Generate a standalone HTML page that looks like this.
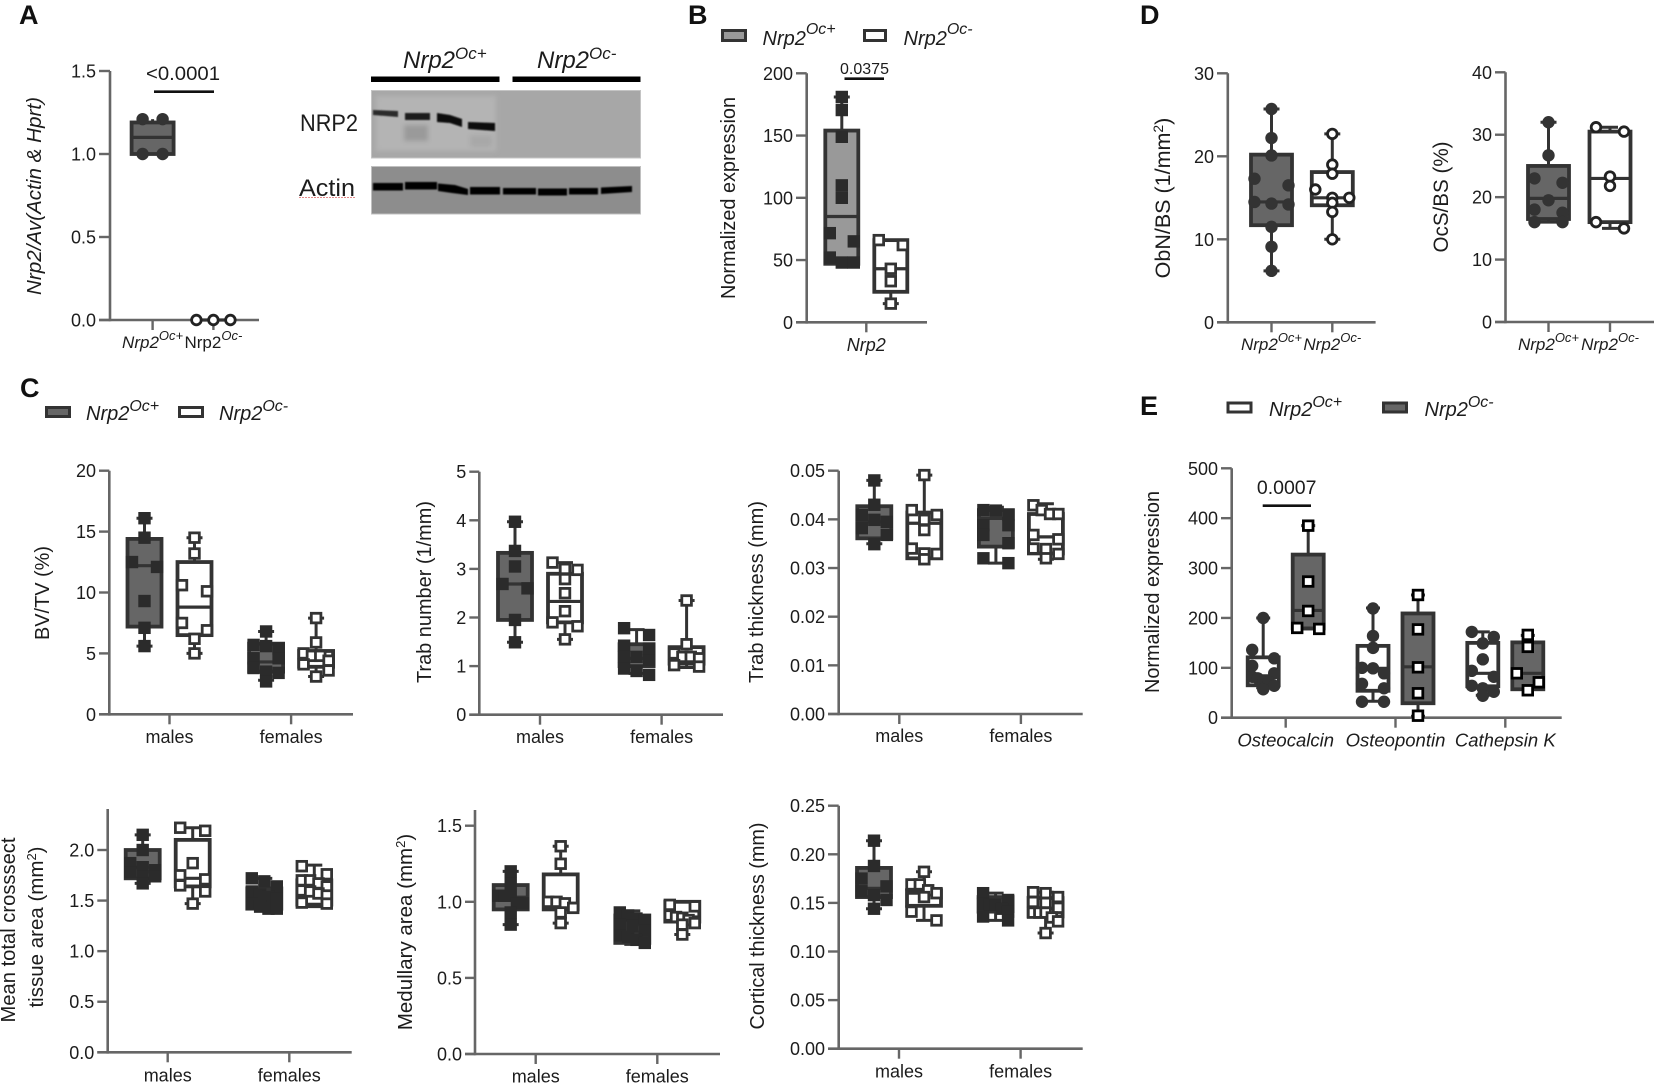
<!DOCTYPE html>
<html lang="en">
<head>
<meta charset="utf-8">
<title>Nrp2 osteoclast knockout figure</title>
<style>
html,body{margin:0;padding:0;background:#fff;}
svg{display:block;font-family:"Liberation Sans",sans-serif;filter:blur(0.35px);}
text{fill:#1c1c1c;}
.letter{font-weight:bold;font-size:27px;fill:#111;}
.ytitle{font-size:20.5px;text-anchor:middle;}
.leg{font-style:italic;font-size:20px;}
.legsup{font-size:16px;}
</style>
</head>
<body>
<svg id="figure" xmlns="http://www.w3.org/2000/svg" width="1654" height="1084" viewBox="0 0 1654 1084">
<defs>
<filter id="blur1" x="-10%" y="-50%" width="120%" height="200%"><feGaussianBlur stdDeviation="0.9"/></filter>
<filter id="blur2" x="-20%" y="-50%" width="140%" height="200%"><feGaussianBlur stdDeviation="2.5"/></filter>
</defs>
<rect width="1654" height="1084" fill="#fff"/>

<text class="letter" x="19" y="24">A</text>
<text class="letter" x="688" y="24">B</text>
<text class="letter" x="20" y="397">C</text>
<text class="letter" x="1140" y="24">D</text>
<text class="letter" x="1140" y="415">E</text>

<!-- Western blot -->
<g>
<text x="403" y="68" font-size="24" font-style="italic">Nrp2<tspan dy="-9" font-size="17">Oc+</tspan></text>
<text x="537" y="68" font-size="24" font-style="italic">Nrp2<tspan dy="-9" font-size="17">Oc-</tspan></text>
<rect x="371" y="76.5" width="128.5" height="5.5" fill="#000"/>
<rect x="512.5" y="76.5" width="128" height="5.5" fill="#000"/>
<rect x="371.5" y="90.5" width="269" height="67.5" fill="#a7a7a7" stroke="#c4c4c4" stroke-width="1"/>
<rect x="371.5" y="166.5" width="269" height="47.5" fill="#8d8d8d" stroke="#c0c0c0" stroke-width="1"/>
<g filter="url(#blur2)">
<rect x="376" y="96" width="120" height="55" fill="#b4b4b4"/>
<rect x="404" y="125" width="24" height="16" fill="#8f8f8f" opacity="0.7"/>
<rect x="470" y="135" width="22" height="12" fill="#9c9c9c" opacity="0.5"/>
</g>
<g filter="url(#blur1)" fill="#0a0a0a">
<path d="M373 110 L398 111 L398 117 L373 115Z" fill="#2a2a2a"/>
<path d="M405 113 L430 113 L430 120 L405 120Z" fill="#1a1a1a"/>
<path d="M437 113 L450 115 L462 119 L462 127 L450 123 L437 122Z"/>
<path d="M468 122 L495 123 L495 131 L468 129Z"/>
</g>
<g filter="url(#blur1)" fill="#050505">
<rect x="373" y="183" width="30" height="7.5"/><rect x="405" y="182" width="32" height="7.5"/>
<path d="M438 183.5 L455 185 L468 189 L468 195 L452 193 L438 191Z"/><rect x="470" y="187" width="30" height="7.5"/>
<rect x="503" y="188" width="33" height="6.5"/><rect x="538" y="188.5" width="29" height="7"/>
<rect x="569" y="188" width="29" height="6.5"/><path d="M601 187.5 L632 186 L632 192 L601 194Z"/>
</g>
<text x="300" y="131" font-size="24" textLength="58" lengthAdjust="spacingAndGlyphs">NRP2</text>
<text x="299" y="196" font-size="24" textLength="56" lengthAdjust="spacingAndGlyphs">Actin</text>
<line x1="299" y1="197.5" x2="356" y2="197.5" stroke="#e58a8a" stroke-width="1" stroke-dasharray="2 1"/>
</g>

<!-- Axis titles -->
<text class="ytitle" font-style="italic" transform="translate(41,196) rotate(-90)" textLength="198" lengthAdjust="spacingAndGlyphs">Nrp2/Av(Actin &amp; Hprt)</text>
<text class="ytitle" transform="translate(735,198) rotate(-90)" textLength="202" lengthAdjust="spacingAndGlyphs">Normalized expression</text>
<text class="ytitle" transform="translate(1170,198) rotate(-90)" font-size="21.5" style="font-size:21.5px">ObN/BS (1/mm<tspan dy="-7" font-size="14">2</tspan><tspan dy="7">)</tspan></text>
<text class="ytitle" transform="translate(1448,197) rotate(-90)" textLength="111" lengthAdjust="spacingAndGlyphs" style="font-size:21.5px">OcS/BS (%)</text>
<text class="ytitle" transform="translate(49,593) rotate(-90)" textLength="94" lengthAdjust="spacingAndGlyphs">BV/TV (%)</text>
<text class="ytitle" transform="translate(431,592) rotate(-90)" textLength="182" lengthAdjust="spacingAndGlyphs">Trab number (1/mm)</text>
<text class="ytitle" transform="translate(763,592) rotate(-90)" textLength="182" lengthAdjust="spacingAndGlyphs">Trab thickness (mm)</text>
<text class="ytitle" transform="translate(15,930) rotate(-90)" textLength="185" lengthAdjust="spacingAndGlyphs">Mean total crosssect</text>
<text class="ytitle" transform="translate(43,927) rotate(-90)">tissue area (mm<tspan dy="-7" font-size="13">2</tspan><tspan dy="7">)</tspan></text>
<text class="ytitle" transform="translate(412,932) rotate(-90)">Medullary area (mm<tspan dy="-7" font-size="13">2</tspan><tspan dy="7">)</tspan></text>
<text class="ytitle" transform="translate(764,926) rotate(-90)" textLength="207" lengthAdjust="spacingAndGlyphs">Cortical thickness (mm)</text>
<text class="ytitle" transform="translate(1159,592) rotate(-90)" textLength="202" lengthAdjust="spacingAndGlyphs">Normalized expression</text>

<!-- Significance -->
<text x="146" y="80" font-size="19.5" textLength="74" lengthAdjust="spacingAndGlyphs">&lt;0.0001</text>
<line x1="154" y1="91.7" x2="214" y2="91.7" stroke="#111" stroke-width="2.6"/>
<text x="864.5" y="74" font-size="16" text-anchor="middle">0.0375</text>
<line x1="844.5" y1="78.7" x2="884" y2="78.7" stroke="#111" stroke-width="2.6"/>
<text x="1286.7" y="494" font-size="19.5" text-anchor="middle">0.0007</text>
<line x1="1262.7" y1="505.7" x2="1311" y2="505.7" stroke="#111" stroke-width="2.6"/>

<!-- Legends -->
<g>
<rect x="722.5" y="30.5" width="23" height="10" fill="#999" stroke="#333" stroke-width="3"/>
<text class="leg" x="762.5" y="45">Nrp2<tspan class="legsup" dy="-11">Oc+</tspan></text>
<rect x="864.5" y="30.5" width="21" height="10" fill="#fff" stroke="#333" stroke-width="3"/>
<text class="leg" x="903.5" y="45">Nrp2<tspan class="legsup" dy="-11">Oc-</tspan></text>
</g>
<g>
<rect x="46.5" y="407.5" width="23" height="9" fill="#666" stroke="#333" stroke-width="3"/>
<text class="leg" x="86" y="420">Nrp2<tspan class="legsup" font-size="15" dy="-9">Oc+</tspan></text>
<rect x="179.5" y="407.5" width="23" height="9" fill="#fff" stroke="#333" stroke-width="3"/>
<text class="leg" x="219" y="420">Nrp2<tspan class="legsup" font-size="15" dy="-9">Oc-</tspan></text>
</g>
<g>
<rect x="1228" y="403" width="23" height="9" fill="#fff" stroke="#333" stroke-width="3"/>
<text class="leg" x="1269" y="416">Nrp2<tspan class="legsup" dy="-9">Oc+</tspan></text>
<rect x="1383.5" y="403" width="23" height="9" fill="#666" stroke="#333" stroke-width="3"/>
<text class="leg" x="1424.5" y="416">Nrp2<tspan class="legsup" dy="-9">Oc-</tspan></text>
</g>
</svg>

<script>
// ---- Chart data: values ----
// Boxes are [min, q1, median, q3, max].
const aCategories = ['Nrp2^Oc+', 'Nrp2^Oc-'];
const aTickLabels = ['0.0', '0.5', '1.0', '1.5'];
const aPoints = [[1.21, 1.21, 1.0, 1.0], [0, 0, 0]];
const aBoxes = [[1.0, 1.0, 1.10, 1.19, 1.21], [0, 0, 0, 0, 0]];

const bCategories = ['Nrp2'];
const bTickLabels = ['0', '50', '100', '150', '200'];
const bPoints = [[181, 170.5, 149, 110, 100, 71.6, 65, 52, 48, 48], [66, 62, 43, 33, 15]];
const bBoxes = [[47, 47, 85, 154, 181], [15, 24.5, 43, 66, 66]];

const obnCategories = ['Nrp2^Oc+', 'Nrp2^Oc-'];
const obnTickLabels = ['0', '10', '20', '30'];
const obnPoints = [[25.7, 22.2, 20.1, 17.3, 16.5, 14.5, 14.3, 14.2, 11.5, 9.1, 6.2], [22.7, 19, 17.9, 16, 15, 15, 14.4, 13.3, 10]];
const obnBoxes = [[6.2, 11.7, 14.5, 20.2, 25.7], [10, 14.1, 15, 18.1, 22.7]];

const ocsCategories = ['Nrp2^Oc+', 'Nrp2^Oc-'];
const ocsTickLabels = ['0', '10', '20', '30', '40'];
const ocsPoints = [[32, 26.7, 23, 22.3, 19.5, 18, 17.5, 16, 16], [31.2, 30.5, 23.3, 21.8, 16, 15]];
const ocsBoxes = [[16, 16.5, 19.8, 25, 32], [15, 16, 23, 30.5, 31.2]];

const sexCategories = ['males', 'females'];

const bvtvTickLabels = ['0', '5', '10', '15', '20'];
const bvtvPoints = [
  [16.1, 14.5, 12.5, 12.1, 9.3, 7.1, 5.6],
  [14.5, 13.2, 10.6, 10.1, 7.5, 6.9, 6.2, 5.0],
  [6.8, 5.7, 5.6, 5.4, 4.6, 4.6, 3.8, 3.5, 3.4, 2.7],
  [7.9, 5.9, 5.0, 4.8, 4.8, 4.4, 4.1, 3.6, 3.1]];
const bvtvBoxes = [[5.6, 7.2, 12.2, 14.4, 16.1], [5, 6.5, 8.8, 12.5, 14.5], [2.8, 3.5, 4.3, 5.8, 6.8], [3.1, 3.9, 4.6, 5.2, 7.9]];

const trabnTickLabels = ['0', '1', '2', '3', '4', '5'];
const trabnPoints = [
  [3.97, 3.37, 3.05, 2.69, 2.6, 1.95, 1.49],
  [3.13, 3.0, 2.98, 2.79, 2.5, 2.13, 1.9, 1.82, 1.55],
  [1.78, 1.64, 1.42, 1.36, 1.19, 1.19, 1.12, 0.95, 0.9, 0.82],
  [2.35, 1.45, 1.26, 1.19, 1.19, 1.16, 1.02, 0.99]];
const trabnBoxes = [[1.49, 1.95, 2.69, 3.33, 3.97], [1.55, 1.9, 2.33, 2.9, 3.13], [0.85, 1.0, 1.16, 1.45, 1.75], [0.97, 1.05, 1.19, 1.39, 2.35]];

const trabtTickLabels = ['0.00', '0.01', '0.02', '0.03', '0.04', '0.05'];
const trabtPoints = [
  [0.048, 0.043, 0.0409, 0.0399, 0.0395, 0.0382, 0.0368, 0.0349],
  [0.0491, 0.0419, 0.0409, 0.0399, 0.0378, 0.034, 0.033, 0.0329, 0.0318],
  [0.0419, 0.0418, 0.0409, 0.0388, 0.0388, 0.0368, 0.0351, 0.032, 0.031],
  [0.0429, 0.0419, 0.0411, 0.0411, 0.0368, 0.0359, 0.034, 0.0339, 0.0329, 0.032]];
const trabtBoxes = [[0.035, 0.0361, 0.0395, 0.0427, 0.048], [0.032, 0.032, 0.0392, 0.0414, 0.0491], [0.031, 0.0344, 0.0402, 0.0419, 0.0425], [0.0318, 0.033, 0.0364, 0.0411, 0.0432]];

const areaTickLabels = ['0.0', '0.5', '1.0', '1.5', '2.0'];
const areaPoints = [
  [2.15, 2.0, 1.87, 1.83, 1.8, 1.78, 1.74, 1.74, 1.67],
  [2.22, 2.19, 1.87, 1.75, 1.71, 1.65, 1.59, 1.47],
  [1.72, 1.69, 1.64, 1.59, 1.56, 1.54, 1.52, 1.47, 1.44, 1.42, 1.42],
  [1.84, 1.76, 1.7, 1.7, 1.67, 1.64, 1.6, 1.59, 1.57, 1.55, 1.48, 1.47]];
const areaBoxes = [[1.67, 1.72, 1.83, 2.0, 2.15], [1.47, 1.64, 1.72, 2.1, 2.22], [1.4, 1.42, 1.47, 1.62, 1.72], [1.44, 1.46, 1.57, 1.7, 1.85]];

const medTickLabels = ['0.0', '0.5', '1.0', '1.5'];
const medPoints = [
  [1.2, 1.12, 1.04, 1.04, 1.04, 0.99, 0.99, 0.93, 0.85],
  [1.365, 1.25, 1.0, 1.0, 0.99, 0.96, 0.93, 0.86],
  [0.93, 0.91, 0.89, 0.88, 0.85, 0.84, 0.81, 0.78, 0.77, 0.75, 0.73],
  [0.98, 0.97, 0.91, 0.9, 0.895, 0.88, 0.86, 0.85, 0.785]];
const medBoxes = [[0.85, 0.95, 1.03, 1.11, 1.2], [0.86, 0.95, 0.99, 1.18, 1.365], [0.72, 0.73, 0.80, 0.91, 0.94], [0.785, 0.87, 0.9, 1.0, 1.0]];

const cortTickLabels = ['0.00', '0.05', '0.10', '0.15', '0.20', '0.25'];
const cortPoints = [
  [0.214, 0.188, 0.175, 0.167, 0.162, 0.158, 0.153, 0.144],
  [0.182, 0.169, 0.169, 0.163, 0.16, 0.156, 0.141, 0.132],
  [0.16, 0.153, 0.149, 0.148, 0.148, 0.144, 0.141, 0.136, 0.132],
  [0.161, 0.16, 0.156, 0.151, 0.15, 0.145, 0.14, 0.14, 0.14, 0.135, 0.131, 0.119]];
const cortBoxes = [[0.144, 0.156, 0.165, 0.186, 0.214], [0.132, 0.147, 0.16, 0.163, 0.182], [0.132, 0.141, 0.147, 0.156, 0.16], [0.119, 0.136, 0.144, 0.155, 0.161]];

const geneCategories = ['Osteocalcin', 'Osteopontin', 'Cathepsin K'];
const geneTickLabels = ['0', '100', '200', '300', '400', '500'];
const genePoints = [
  [200, 136, 119, 104, 89, 82, 79, 72, 72, 64, 57],
  [385, 273, 214, 180, 178],
  [219, 164, 140, 100, 99, 89, 68, 59, 32, 32],
  [246, 177, 101, 49, 4],
  [172, 162, 149, 117, 94, 82, 64, 59, 52, 44],
  [166, 142, 89, 71, 55]];
const geneBoxes = [[60, 65, 84, 121, 200], [178, 179, 215, 327, 385], [33, 54, 99, 144, 220], [3, 29, 102, 209, 246], [45, 63, 89, 150, 172], [57, 57, 89, 151, 165]];

// ---- Rendering ----
const NS = 'http://www.w3.org/2000/svg';
const figure = document.getElementById('figure');

function mk(tag, attrs, parent) {
  const el = document.createElementNS(NS, tag);
  for (const k in attrs) el.setAttribute(k, attrs[k]);
  parent.appendChild(el);
  return el;
}

// Prism-style swarm: values close together share a row and spread sideways.
function swarmOffsets(values, yOf, binPx, step) {
  const order = values.map((v, i) => i).sort((a, b) => values[b] - values[a]);
  const offsets = new Array(values.length).fill(0);
  let bin = [];
  const flush = () => {
    bin.forEach((idx, k) => {
      offsets[idx] = bin.length === 1 ? 0 : -step + 2 * step * k / (bin.length - 1);
    });
    bin = [];
  };
  order.forEach(idx => {
    if (bin.length && Math.abs(yOf(values[idx]) - yOf(values[bin[0]])) >= binPx) flush();
    bin.push(idx);
  });
  flush();
  return offsets;
}

function renderChart(cfg, categories, tickLabels, points, boxes) {
  const g = mk('g', {}, figure);
  
  

  const yOf = v => cfg.y0 + (v - cfg.vmin) * (cfg.yTop - cfg.y0) / (cfg.vmax - cfg.vmin);
  const xOf = i => cfg.xFirst + i * cfg.xStep;
  const axisColor = '#666';

  const yAxis = mk('line', {x1: cfg.axisX, x2: cfg.axisX, y1: cfg.axisTop !== undefined ? cfg.axisTop : cfg.yTop, y2: cfg.y0 + 1.3, stroke: axisColor, 'stroke-width': 2.6}, g);
  
  
  const xAxis = mk('line', {x1: cfg.tickLeft, x2: cfg.xRight, y1: cfg.y0, y2: cfg.y0, stroke: axisColor, 'stroke-width': 2.6}, g);
  
  

  tickLabels.forEach(label => {
    const y = yOf(parseFloat(label));
    const tick = mk('line', {x1: cfg.tickLeft, x2: cfg.axisX, y1: y, y2: y, stroke: axisColor, 'stroke-width': 2.4}, g);
    
    
    const t = mk('text', {x: cfg.tickLeft - 3, y: y + 6.5, 'font-size': cfg.tickSize || 18, 'text-anchor': 'end'}, g);
    
    
    t.textContent = label;
  });

  categories.forEach((label, i) => {
    const x = xOf(i);
    const tick = mk('line', {x1: x, x2: x, y1: cfg.y0, y2: cfg.y0 + 10, stroke: axisColor, 'stroke-width': 2.4}, g);
    
    
    const t = mk('text', {x: x, y: cfg.labelY, 'font-size': cfg.labelSize || 18, 'text-anchor': 'middle'}, g);
    
    
    const parts = label.split('^');
    const base = mk('tspan', {'font-style': (cfg.italic && cfg.uprightBase !== i) ? 'italic' : 'normal'}, t);
    base.textContent = parts[0];
    if (parts[1]) {
      const sup = mk('tspan', {'font-style': 'italic', 'font-size': cfg.supSize || 13, dy: -8}, t);
      sup.textContent = parts[1];
    }
  });

  const nSeries = points.length / categories.length;
  points.forEach((vals, i) => {
    const cat = Math.floor(i / nSeries);
    const ser = i % nSeries;
    const style = cfg.styles[i % cfg.styles.length];
    const center = xOf(cat) + (nSeries === 1 ? 0 : (ser - (nSeries - 1) / 2) * 2 * cfg.dodge);
    const box = boxes[i];
    const sg = mk('g', {}, g);
    
    
    const ink = cfg.ink || '#333';

    const whisker = mk('path', {d: 'M' + center + ' ' + yOf(box[4]) + 'V' + yOf(box[3]) + 'M' + center + ' ' + yOf(box[1]) + 'V' + yOf(box[0]) +
      'M' + (center - cfg.capHalf) + ' ' + yOf(box[4]) + 'H' + (center + cfg.capHalf) +
      'M' + (center - cfg.capHalf) + ' ' + yOf(box[0]) + 'H' + (center + cfg.capHalf),
      fill: 'none', stroke: ink, 'stroke-width': 3}, sg);
    
    

    const rect = mk('rect', {x: center - cfg.boxHalf, width: 2 * cfg.boxHalf, y: yOf(box[3]), height: Math.max(0, yOf(box[1]) - yOf(box[3])),
      fill: style.fill, stroke: ink, 'stroke-width': cfg.boxStroke || 3.8}, sg);
    
    

    const med = mk('line', {x1: center - cfg.boxHalf, x2: center + cfg.boxHalf, y1: yOf(box[2]), y2: yOf(box[2]), stroke: ink, 'stroke-width': 3.2}, sg);
    
    

    const step = Array.isArray(cfg.step) ? cfg.step[i] : cfg.step;
    const offs = swarmOffsets(vals, yOf, cfg.binPx, step);
    vals.forEach((v, k) => {
      const px = center + offs[k];
      const py = yOf(v);
      let m;
      if (style.marker === 'square') {
        const s = style.hollow ? 9.6 : 12.4;
        m = mk('rect', {x: px - s / 2, y: py - s / 2, width: s, height: s,
          fill: style.hollow ? '#fff' : '#2b2b2b',
          stroke: style.hollow ? (style.markerInk || '#333') : 'none', 'stroke-width': style.hollow ? 2.8 : 0}, sg);
      } else {
        m = mk('circle', {cx: px, cy: py, r: style.hollow ? 4.8 : 6.2,
          fill: style.hollow ? '#fff' : '#333',
          stroke: style.hollow ? '#222' : 'none', 'stroke-width': style.hollow ? 2.8 : 0}, sg);
      }
      
      
    });
  });
}

const darkSquare = {fill: '#666', marker: 'square', hollow: false};
const whiteSquare = {fill: '#fff', marker: 'square', hollow: true};
const darkCircle = {fill: '#666', marker: 'circle', hollow: false};
const whiteCircle = {fill: '#fff', marker: 'circle', hollow: true};

renderChart({name: 'chart-nrp2-av', y0: 320, yTop: 71, vmin: 0, vmax: 1.5, axisX: 110, tickLeft: 99, xRight: 259, xFirst: 152.6, xStep: 60.8, dodge: 0,
  labelY: 348, labelSize: 17, italic: true, uprightBase: 1, tickSize: 18, capHalf: 0, boxHalf: 21, binPx: 9, step: [10, 17],
  styles: [darkCircle, whiteCircle]},
  aCategories, aTickLabels, aPoints, aBoxes);

renderChart({name: 'chart-b-nrp2-expression', y0: 322.3, yTop: 73.3, vmin: 0, vmax: 200, axisX: 806.7, tickLeft: 796, xRight: 927, xFirst: 866.3, xStep: 0, dodge: 24.5,
  labelY: 351, labelSize: 18, italic: true, capHalf: 8, boxHalf: 16.5, binPx: 9, step: 12,
  styles: [{fill: '#999', marker: 'square', hollow: false}, whiteSquare]},
  bCategories, bTickLabels, bPoints, bBoxes);

renderChart({name: 'chart-obn-bs', y0: 322.3, yTop: 73.3, vmin: 0, vmax: 30, axisX: 1227.8, tickLeft: 1217, xRight: 1375.6, xFirst: 1271.5, xStep: 60.8, dodge: 0,
  labelY: 350, labelSize: 17, italic: true, capHalf: 8, boxHalf: 20.5, binPx: 9, step: 17,
  styles: [darkCircle, whiteCircle]},
  obnCategories, obnTickLabels, obnPoints, obnBoxes);

renderChart({name: 'chart-ocs-bs', y0: 322, yTop: 72.3, vmin: 0, vmax: 40, axisX: 1505.5, tickLeft: 1495, xRight: 1654, xFirst: 1548.5, xStep: 61.5, dodge: 0,
  labelY: 350, labelSize: 17, italic: true, capHalf: 8, boxHalf: 20.5, binPx: 9, step: 14,
  styles: [darkCircle, whiteCircle]},
  ocsCategories, ocsTickLabels, ocsPoints, ocsBoxes);

const sexBase = {xStep: 121.6, dodge: 25, labelSize: 18, italic: false, capHalf: 8, boxHalf: 17, binPx: 9, step: 12.5, styles: [darkSquare, whiteSquare]};

renderChart(Object.assign({}, sexBase, {name: 'chart-bv-tv', y0: 714.3, yTop: 470.7, vmin: 0, vmax: 20, axisX: 109.3, tickLeft: 99, xRight: 353, xFirst: 169.5, labelY: 743}),
  sexCategories, bvtvTickLabels, bvtvPoints, bvtvBoxes);
renderChart(Object.assign({}, sexBase, {name: 'chart-trab-number', y0: 714.7, yTop: 471.7, vmin: 0, vmax: 5, axisX: 479.3, tickLeft: 469.3, xRight: 723, xFirst: 540, labelY: 743}),
  sexCategories, trabnTickLabels, trabnPoints, trabnBoxes);
renderChart(Object.assign({}, sexBase, {name: 'chart-trab-thickness', y0: 714, yTop: 470.7, vmin: 0, vmax: 0.05, axisX: 838.7, tickLeft: 828, xRight: 1082.7, xFirst: 899.3, labelY: 742}),
  sexCategories, trabtTickLabels, trabtPoints, trabtBoxes);
renderChart(Object.assign({}, sexBase, {name: 'chart-total-area', y0: 1052.3, yTop: 850, vmin: 0, vmax: 2, axisTop: 809, axisX: 107.7, tickLeft: 97.3, xRight: 351.7, xFirst: 167.7, labelY: 1081.5}),
  sexCategories, areaTickLabels, areaPoints, areaBoxes);
renderChart(Object.assign({}, sexBase, {name: 'chart-medullary-area', y0: 1054, yTop: 825.7, vmin: 0, vmax: 1.5, axisTop: 810, axisX: 475, tickLeft: 465, xRight: 720, xFirst: 535.7, labelY: 1082.5}),
  sexCategories, medTickLabels, medPoints, medBoxes);
renderChart(Object.assign({}, sexBase, {name: 'chart-cortical-thickness', y0: 1048.7, yTop: 805.7, vmin: 0, vmax: 0.25, axisX: 838.7, tickLeft: 828, xRight: 1082.7, xFirst: 899, labelY: 1077.3}),
  sexCategories, cortTickLabels, cortPoints, cortBoxes);

renderChart({name: 'chart-e-gene-expression', y0: 717.7, yTop: 468.3, vmin: 0, vmax: 500, axisX: 1231.7, tickLeft: 1221, xRight: 1561.7, xFirst: 1285.7, xStep: 109.8, dodge: 22.5,
  labelY: 746.7, labelSize: 18.5, italic: true, capHalf: 7, boxHalf: 15.5, binPx: 9, step: 11,
  styles: [{fill: '#fff', marker: 'circle', hollow: false}, {fill: '#666', marker: 'square', hollow: true, markerInk: '#000'}]},
  geneCategories, geneTickLabels, genePoints, geneBoxes);
</script>
</body>
</html>
